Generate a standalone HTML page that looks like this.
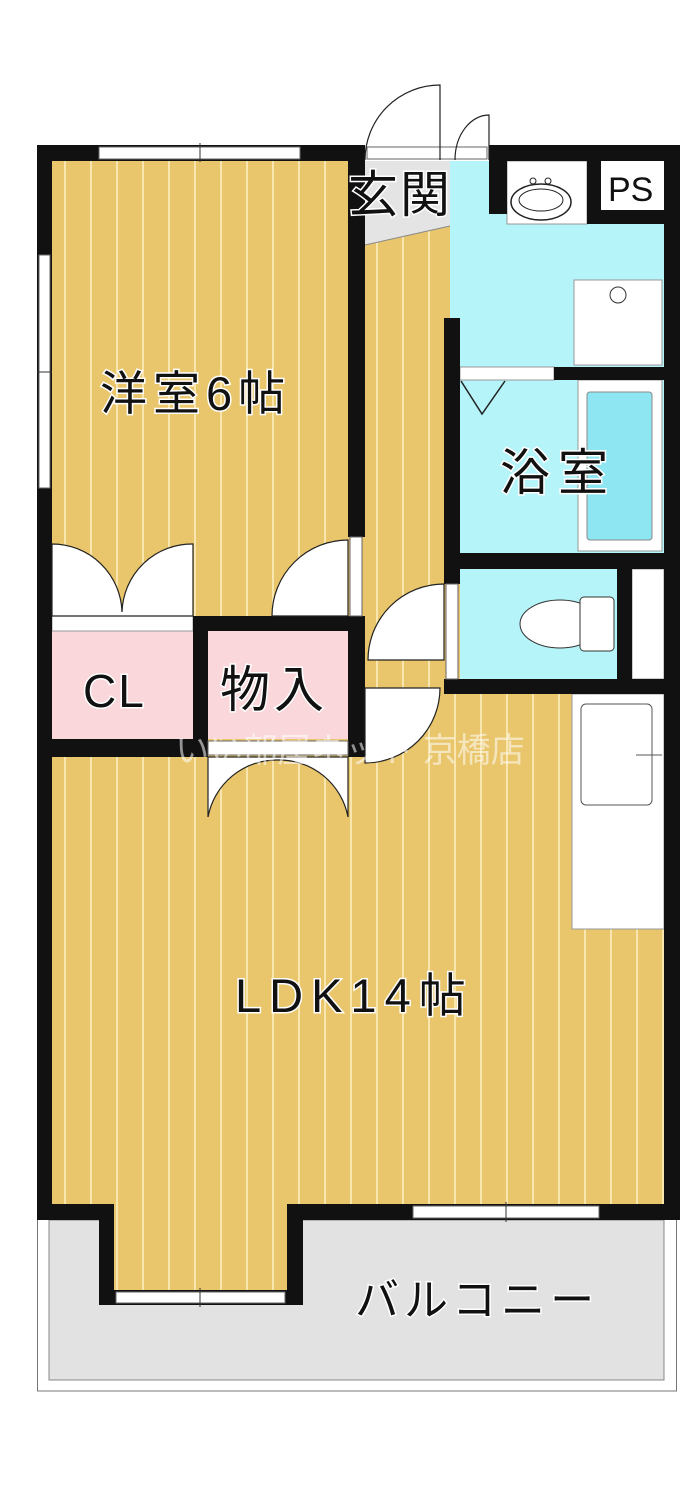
<!DOCTYPE html>
<html><head><meta charset="utf-8"><style>
html,body{margin:0;padding:0;background:#fff;}
svg{display:block}
text{font-family:"Liberation Sans","Noto Sans CJK JP",sans-serif;fill:#111;stroke:#fff;stroke-width:3;paint-order:stroke;}
</style></head><body>
<svg width="700" height="1501" viewBox="0 0 700 1501" xmlns="http://www.w3.org/2000/svg">
<defs>
<pattern id="fl" width="26" height="40" patternUnits="userSpaceOnUse">
<rect width="26" height="40" fill="#e9c66b"/>
<rect x="12" width="2" height="40" fill="#f8e6ae"/>
</pattern>
</defs>
<rect width="700" height="1501" fill="#fff"/>
<rect x="37.5" y="1210" width="639" height="181" fill="none" stroke="#777" stroke-width="1"/>
<rect x="49" y="1220" width="615" height="160" fill="#e2e2e2" stroke="#888" stroke-width="1"/>
<rect x="52" y="161" width="612" height="1043" fill="url(#fl)"/>
<rect x="114" y="1200" width="173" height="92" fill="url(#fl)"/>
<polygon points="365,161 450,161 450,226 365,245" fill="#e4e4e4"/>
<line x1="365" y1="245" x2="450" y2="226" stroke="#888" stroke-width="1"/>
<rect x="450" y="161" width="214" height="206" fill="#b5f4f8"/>
<rect x="507" y="161" width="80" height="63" fill="#fff" stroke="#999"/>
<ellipse cx="541" cy="202" rx="30" ry="18" fill="#fff" stroke="#222" stroke-width="1.5"/>
<ellipse cx="541" cy="200" rx="22" ry="11" fill="none" stroke="#222" stroke-width="1"/>
<circle cx="533" cy="181" r="3" fill="none" stroke="#222"/><circle cx="548" cy="181" r="3" fill="none" stroke="#222"/>
<rect x="587" y="161" width="77" height="63" fill="#111"/>
<rect x="601" y="161" width="63" height="49" fill="#fff"/>
<rect x="574" y="280" width="88" height="85" fill="#fff" stroke="#999"/>
<circle cx="618" cy="295" r="8" fill="none" stroke="#333"/>
<rect x="460" y="380" width="204" height="173" fill="#b5f4f8"/>
<rect x="578" y="380" width="84" height="171" fill="#fff" stroke="#999"/>
<rect x="587" y="392" width="65" height="148" rx="3" fill="#8ee6f2" stroke="#888"/>
<rect x="460" y="367" width="94" height="13" fill="#fff" stroke="#999"/>
<polyline points="461,381 482,414 505,381" fill="none" stroke="#222" stroke-width="1.5"/>
<rect x="460" y="569" width="157" height="110" fill="#b5f4f8"/>
<rect x="632" y="569" width="32" height="110" fill="#fff" stroke="#999"/>
<ellipse cx="560" cy="624" rx="40" ry="24" fill="#fff" stroke="#333"/>
<rect x="580" y="597" width="34" height="54" rx="4" fill="#fff" stroke="#333"/>
<rect x="52" y="631" width="141" height="108" fill="#f9d7da"/>
<rect x="208" y="631" width="140" height="108" fill="#f9d7da"/>
<rect x="52" y="616" width="141" height="15" fill="#fff" stroke="#999"/>
<rect x="572" y="694" width="92" height="235" fill="#fff" stroke="#999"/>
<rect x="581" y="704" width="71" height="101" rx="5" fill="#fff" stroke="#555"/>
<line x1="636" y1="755" x2="662" y2="755" stroke="#555"/>
<g fill="#111">
<rect x="37" y="145" width="328" height="16"/>
<rect x="489" y="145" width="191" height="16"/>
<rect x="37" y="145" width="15" height="1075"/>
<rect x="664" y="145" width="16" height="1075"/>
<rect x="348" y="161" width="17" height="376"/>
<rect x="348" y="616" width="17" height="141"/>
<rect x="193" y="616" width="172" height="15"/>
<rect x="193" y="616" width="15" height="141"/>
<rect x="37" y="739" width="171" height="18"/>
<rect x="444" y="318" width="16" height="266"/>
<rect x="444" y="679" width="16" height="15"/>
<rect x="554" y="367" width="110" height="13"/>
<rect x="444" y="553" width="220" height="16"/>
<rect x="617" y="569" width="15" height="110"/>
<rect x="444" y="679" width="236" height="15"/>
<rect x="489" y="145" width="18" height="69"/>
<rect x="37" y="1204" width="77" height="16"/>
<rect x="99" y="1204" width="15" height="101"/>
<rect x="287" y="1204" width="16" height="101"/>
<rect x="303" y="1204" width="377" height="16"/>
<rect x="114" y="1290" width="173" height="15"/>
</g>
<g fill="#fff" stroke="#666" stroke-width="1">
<rect x="99" y="147" width="201" height="12"/>
<rect x="39" y="255" width="11" height="233"/>
<rect x="413" y="1206" width="186" height="12"/>
<rect x="116" y="1292" width="169" height="11"/>
<rect x="208" y="741" width="140" height="14"/>
<rect x="350" y="537" width="12" height="79"/>
<rect x="446" y="584" width="12" height="95"/>
<rect x="367" y="147" width="120" height="12"/>
</g>
<g stroke="#333" stroke-width="1">
<line x1="200" y1="143" x2="200" y2="162"/><line x1="37" y1="372" x2="52" y2="372"/>
<line x1="506" y1="1202" x2="506" y2="1222"/><line x1="200" y1="1288" x2="200" y2="1307"/>
</g>
<g fill="#fff" stroke="#222" stroke-width="1.2">
<path d="M52,616 L52,544 A70,70 0 0 1 122,612 A70,70 0 0 1 193,544 L193,616 Z"/>
<path d="M348,616 L348,540 A76,76 0 0 0 272,616 Z"/>
<path d="M444,660 L444,584 A76,76 0 0 0 368,660 Z"/>
<path d="M365,688 L440,688 A75,75 0 0 1 365,763 Z"/>
<path d="M208,757 L208,817 A70,70 0 0 1 278,760 A70,70 0 0 1 348,817 L348,757 Z"/>
<path d="M440,160 L440,85 A75,75 0 0 0 365,160" fill="none"/>
<path d="M489,160 L489,115 A34,45 0 0 0 455,160" fill="none"/>
</g>
<text x="100" y="410" font-size="47" letter-spacing="6">洋室6帖</text>
<text x="500" y="490" font-size="50" letter-spacing="8">浴室</text>
<text x="348" y="212" font-size="50" letter-spacing="2">玄関</text>
<text x="608" y="201" font-size="34">PS</text>
<text x="83" y="707" font-size="46" letter-spacing="2">CL</text>
<text x="220" y="707" font-size="50" letter-spacing="4">物入</text>
<text x="235" y="1012" font-size="47" letter-spacing="8">LDK14帖</text>
<text x="355" y="1315" font-size="44" letter-spacing="5">バルコニー</text>
<text x="350" y="762" font-size="34" text-anchor="middle" style="fill:#fff;opacity:0.55;stroke:none">いい部屋ネット 京橋店</text>
</svg>
</body></html>
